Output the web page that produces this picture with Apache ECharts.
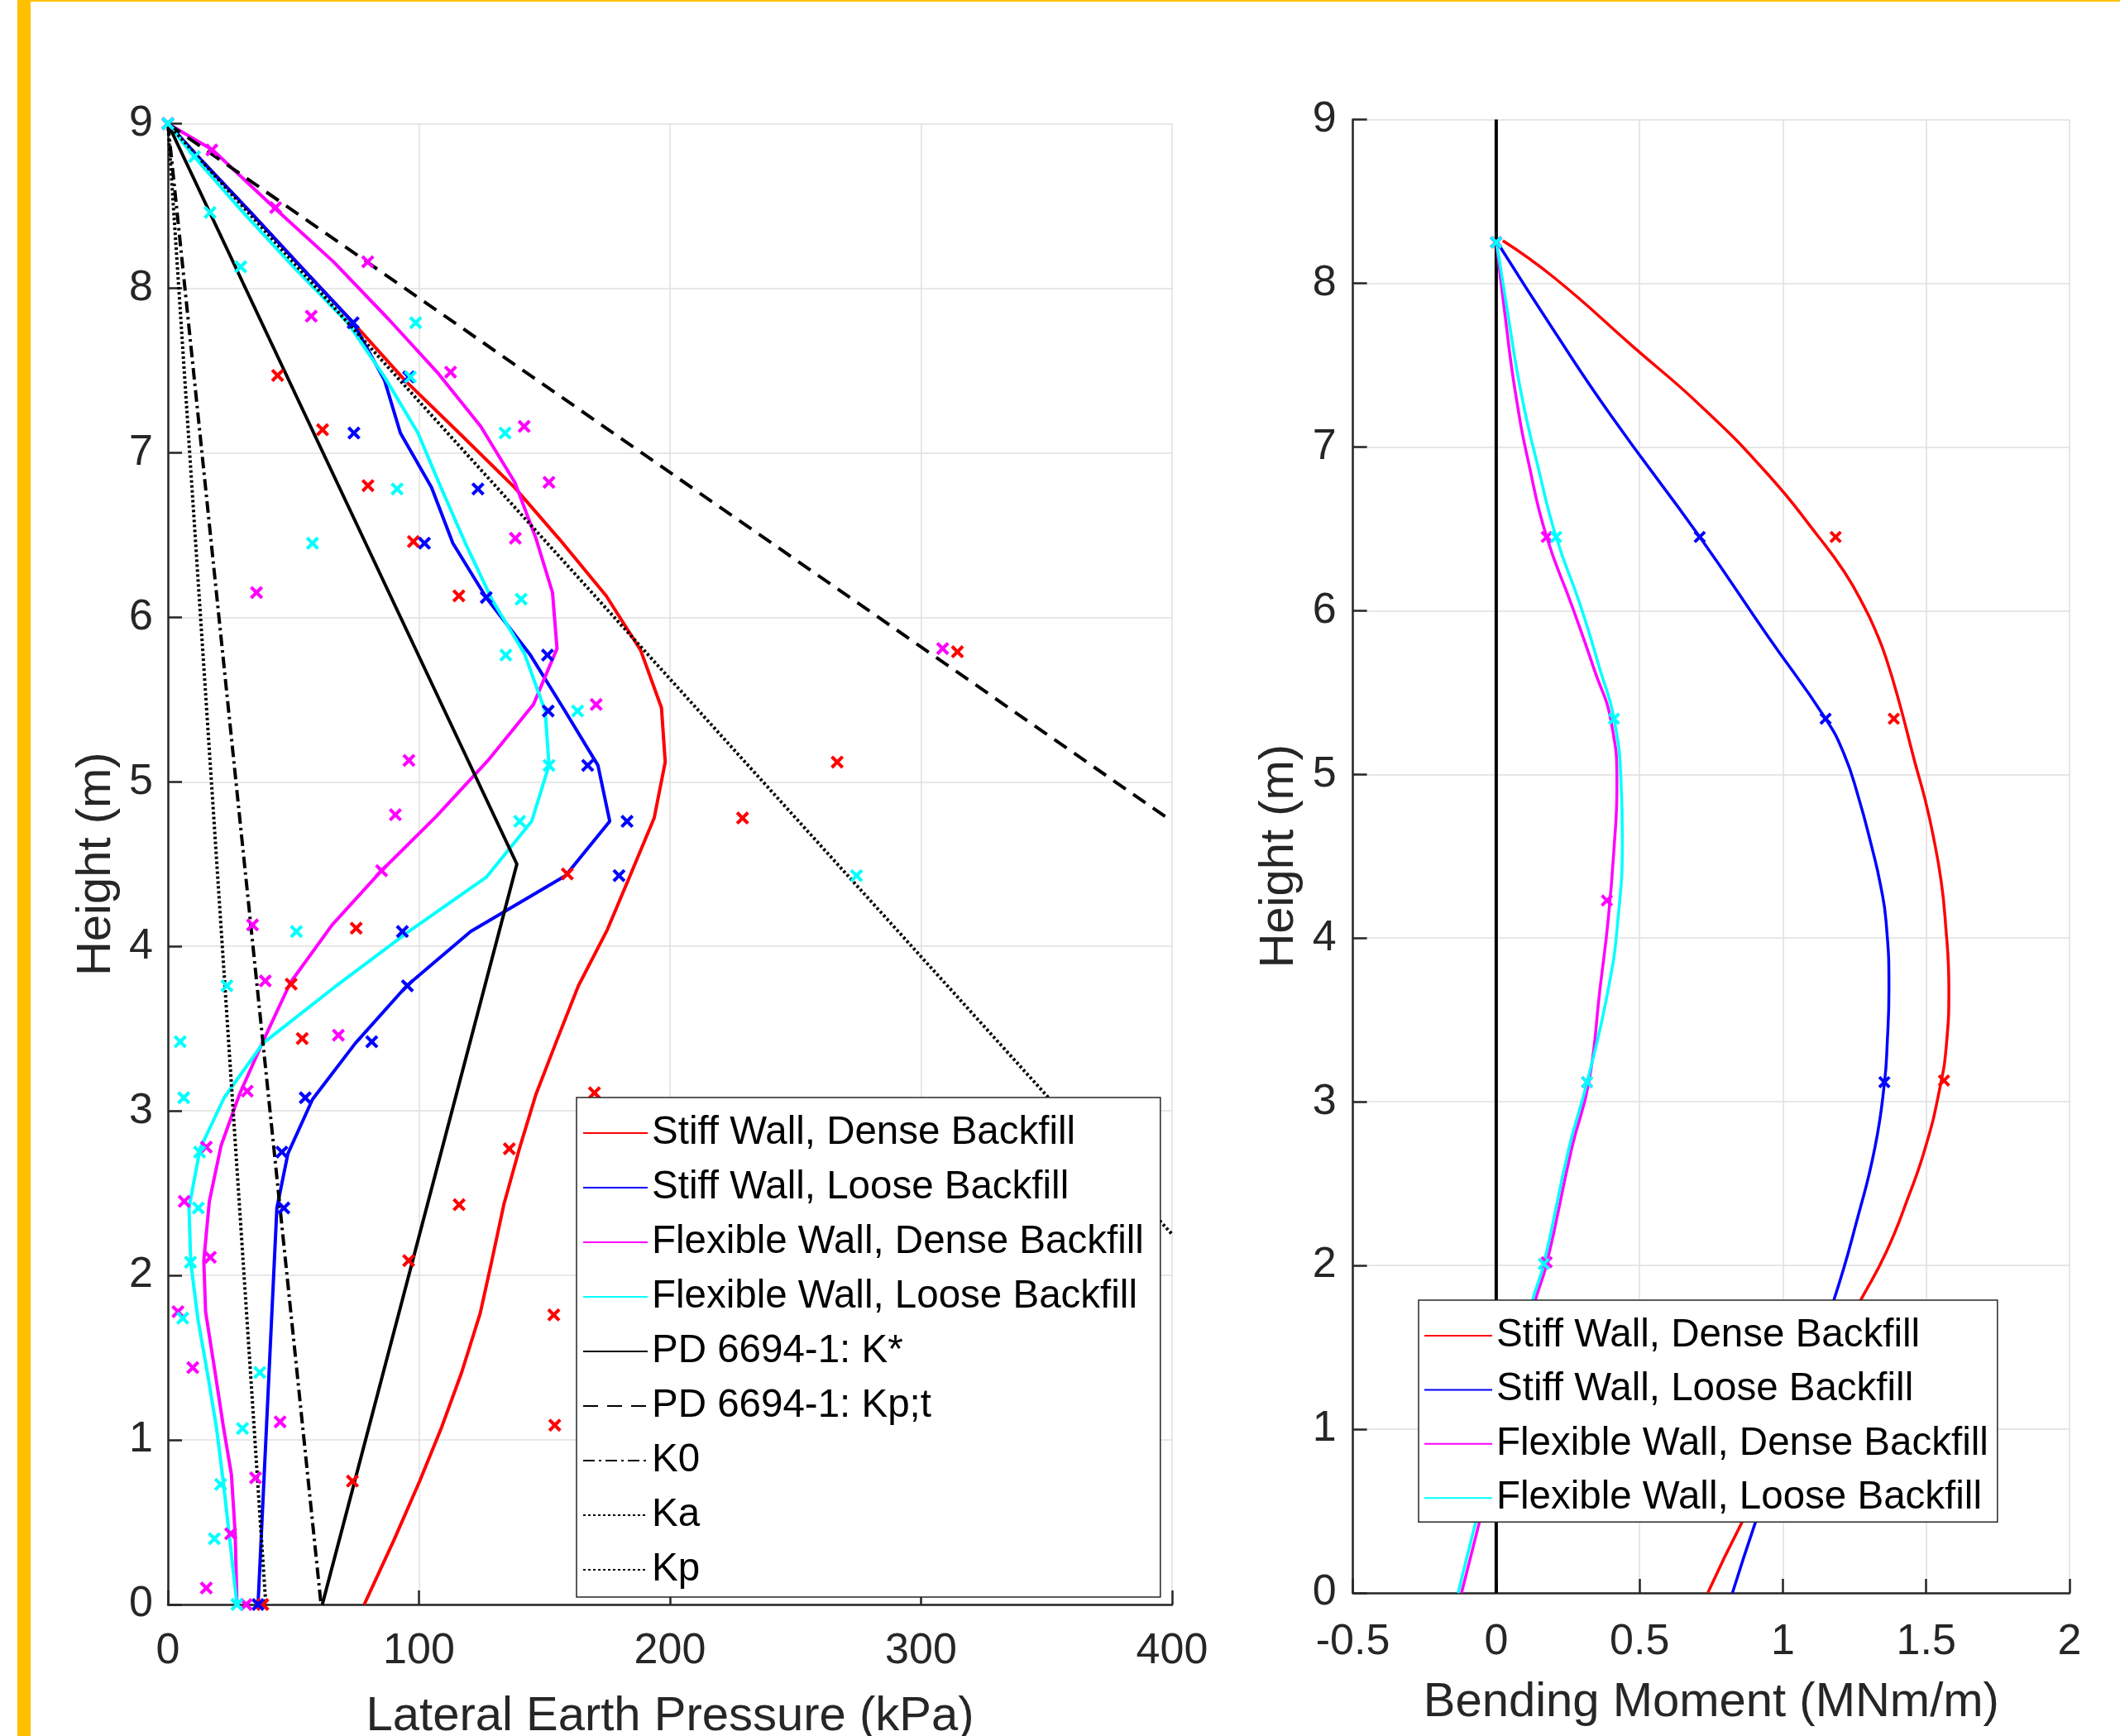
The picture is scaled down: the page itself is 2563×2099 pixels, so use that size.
<!DOCTYPE html>
<html lang="en">
<head>
<meta charset="UTF-8">
<title>Earth pressure and bending moment</title>
<script src="https://cdn.jsdelivr.net/npm/echarts@6/dist/echarts.min.js"></script>
<style>
    html, body {
        margin: 0;
        padding: 0;
        background: #fff;
    }
    #frame {
        position: absolute;
        left: 21px;
        top: 0;
        width: 2542px;
        height: 2099px;
        box-sizing: border-box;
        border-left: 16px solid #ffc000;
        border-top: 2px solid #ffc000;
    }
    #chart {
        position: absolute;
        left: 0;
        top: 0;
        width: 2563px;
        height: 2099px;
    }
</style>
</head>
<body>
<div id="frame"></div>
<div id="chart"></div>
<script>
    // left panel: lateral earth pressure (kPa) against height (m), [x, y]
    const stiffDenseP = [[0, 9], [12, 8.80], [33, 8.46], [53, 8.13], [73.8, 7.79], [94.4, 7.44], [116, 7.12], [138, 6.79], [156.2, 6.47], [174.6, 6.13], [188.3, 5.80], [196.6, 5.45], [198.1, 5.12], [193.7, 4.78], [184.1, 4.43], [175, 4.10], [163.5, 3.76], [154.7, 3.42], [146.6, 3.10], [140, 2.77], [133.8, 2.43], [128.9, 2.08], [124.4, 1.77], [117, 1.41], [109.1, 1.08], [100.3, 0.75], [90, 0.39], [78.2, 0]];
    const stiffLooseP = [[0, 9], [12, 8.80], [33, 8.46], [53, 8.13], [73.8, 7.79], [86.3, 7.44], [92.6, 7.12], [105, 6.79], [113.5, 6.45], [126.8, 6.12], [144.4, 5.77], [157.8, 5.44], [171.3, 5.10], [176, 4.76], [158.4, 4.43], [120.6, 4.09], [95.1, 3.76], [74.6, 3.41], [57.6, 3.07], [47.8, 2.74], [43.4, 2.41], [35.9, 0]];
    const flexDenseP = [[0, 9], [17.8, 8.84], [43, 8.48], [66, 8.16], [88, 7.81], [107.8, 7.48], [124.6, 7.16], [138.2, 6.82], [146.6, 6.48], [153.2, 6.15], [155, 5.81], [145.6, 5.47], [127.5, 5.13], [106.9, 4.79], [85.1, 4.46], [65.4, 4.13], [48.8, 3.78], [37.8, 3.42], [28.5, 3.10], [21.2, 2.79], [16.5, 2.45], [14.3, 2.09], [15, 1.78], [18.7, 1.42], [22.1, 1.08], [25.3, 0.79], [26.8, 0.43], [27.5, 0]];
    const flexLooseP = [[0, 9], [10.4, 8.80], [30, 8.46], [50, 8.13], [71.6, 7.79], [86.3, 7.46], [99.6, 7.12], [109, 6.78], [118.5, 6.45], [129, 6.11], [142, 5.78], [150.3, 5.43], [151.8, 5.10], [144.9, 4.76], [126.8, 4.42], [95.9, 4.09], [66.2, 3.75], [37.8, 3.41], [22.4, 3.08], [12.8, 2.77], [8.4, 2.41], [9.1, 2.08], [12, 1.73], [15.7, 1.41], [19.4, 1.07], [22.1, 0.74], [24.6, 0.40], [27.5, 0]];

    const stiffDenseMarks = [[0, 9], [43.7, 7.47], [61.6, 7.14], [79.7, 6.80], [97.8, 6.46], [115.9, 6.13], [314.5, 5.79], [266.6, 5.12], [228.9, 4.78], [159.1, 4.44], [75, 4.11], [49.1, 3.77], [53.5, 3.44], [169.9, 3.11], [136, 2.77], [116, 2.43], [95.9, 2.09], [153.7, 1.76], [154.1, 1.09], [73.5, 0.75], [37.8, 0]];
    const stiffLooseMarks = [[0, 9], [73.8, 7.79], [95.9, 7.46], [74.1, 7.12], [123.5, 6.78], [102.2, 6.45], [126.8, 6.12], [151.2, 5.77], [151.5, 5.43], [167.2, 5.10], [182.9, 4.76], [179.7, 4.43], [93.4, 4.09], [95.4, 3.76], [81.2, 3.42], [54.7, 3.08], [45.4, 2.75], [46.2, 2.41], [35.9, 0]];
    const flexDenseMarks = [[0, 9], [17.5, 8.84], [42.9, 8.49], [79.6, 8.16], [57.1, 7.83], [112.6, 7.49], [141.9, 7.16], [151.8, 6.82], [138.4, 6.48], [35.3, 6.15], [308.6, 5.81], [170.6, 5.47], [96, 5.13], [90.6, 4.80], [85.1, 4.46], [33.7, 4.13], [38.8, 3.79], [67.9, 3.46], [31.6, 3.12], [15.3, 2.78], [6.5, 2.45], [16.9, 2.11], [4, 1.78], [9.9, 1.44], [44.7, 1.11], [34.9, 0.77], [25, 0.43], [15.3, 0.10], [31.2, 0]];
    const flexLooseMarks = [[0, 9], [10.6, 8.80], [16.8, 8.46], [29, 8.13], [98.7, 7.79], [96.6, 7.46], [134.3, 7.12], [91.3, 6.78], [57.6, 6.45], [140.7, 6.11], [134.6, 5.77], [163.2, 5.43], [151.8, 5.10], [140.1, 4.76], [274.3, 4.43], [51.2, 4.09], [23.5, 3.76], [4.9, 3.42], [6.3, 3.08], [12.6, 2.75], [12.1, 2.41], [9, 2.08], [5.9, 1.74], [36.6, 1.41], [29.7, 1.07], [21, 0.73], [18.5, 0.40], [27.5, 0]];

    const kStar = [[0, 9], [139, 4.5], [61.5, 0]];
    const kpt = [[0, 9], [400, 4.76]];
    const k0 = [[0, 9], [61, 0]];
    const ka = [[0, 9], [39, 0]];
    const kp = [[0, 9], [400, 2.25]];

    // right panel: bending moment (MNm/m) against height (m)
    const stiffDenseM = [[0.023, 8.26], [0.205, 8.03], [0.479, 7.61], [0.714, 7.25], [0.949, 6.83], [1.125, 6.45], [1.213, 6.24], [1.282, 6.03], [1.325, 5.87], [1.360, 5.71], [1.409, 5.42], [1.458, 5.09], [1.497, 4.84], [1.526, 4.61], [1.552, 4.35], [1.566, 4.12], [1.579, 3.69], [1.571, 3.36], [1.546, 3.07], [1.497, 2.72], [1.438, 2.42], [1.360, 2.08], [1.272, 1.79], [1.065, 1.11], [0.857, 0.43], [0.738, 0]];
    const stiffLooseM = [[0, 8.26], [0.205, 7.70], [0.401, 7.19], [0.710, 6.45], [0.949, 5.84], [1.149, 5.34], [1.212, 5.13], [1.262, 4.87], [1.311, 4.55], [1.341, 4.32], [1.360, 4.10], [1.370, 3.69], [1.364, 3.36], [1.354, 3.11], [1.321, 2.72], [1.262, 2.30], [1.178, 1.79], [1.04, 1.11], [0.904, 0.43], [0.824, 0]];
    const flexDenseM = [[0, 8.26], [0.029, 7.83], [0.068, 7.32], [0.117, 6.87], [0.176, 6.45], [0.264, 6.03], [0.342, 5.64], [0.401, 5.32], [0.421, 4.93], [0.411, 4.55], [0.391, 4.12], [0.362, 3.69], [0.323, 3.12], [0.264, 2.72], [0.176, 2.01], [0.137, 1.79], [0.04, 1.11], [-0.059, 0.43], [-0.121, 0]];
    const flexLooseM = [[0, 8.26], [0.039, 7.83], [0.088, 7.32], [0.147, 6.87], [0.209, 6.45], [0.294, 6.03], [0.362, 5.64], [0.411, 5.34], [0.436, 4.93], [0.440, 4.61], [0.425, 4.12], [0.391, 3.69], [0.317, 3.12], [0.254, 2.72], [0.166, 2.01], [0.127, 1.79], [0.03, 1.11], [-0.072, 0.43], [-0.133, 0]];

    const stiffDenseMMarks = [[0, 8.25], [1.184, 6.45], [1.387, 5.34], [1.562, 3.13]];
    const stiffLooseMMarks = [[0, 8.25], [0.710, 6.45], [1.149, 5.34], [1.354, 3.12]];
    const flexDenseMMarks = [[0, 8.25], [0.176, 6.45], [0.386, 4.23], [0.317, 3.12], [0.176, 2.02]];
    const flexLooseMMarks = [[0, 8.25], [0.209, 6.45], [0.411, 5.34], [0.317, 3.12], [0.166, 2.01]];
    const zeroLine = [[0, 0], [0, 9]];

    const wallNames = ['Stiff Wall, Dense Backfill', 'Stiff Wall, Loose Backfill', 'Flexible Wall, Dense Backfill', 'Flexible Wall, Loose Backfill'];
    const refNames = ['PD 6694-1: K*', 'PD 6694-1: Kp;t', 'K0', 'Ka', 'Kp'];
    const wallColors = ['#ff0000', '#0000ff', '#ff00ff', '#00ffff'];

    const FONT = 'Liberation Sans, Arial, sans-serif';
    const AXIS = '#262626';
    const CROSS = 'path://M0,1.8L1.8,0L5,3.2L8.2,0L10,1.8L6.8,5L10,8.2L8.2,10L5,6.8L1.8,10L0,8.2L3.2,5Z';

    function line(name, data, color, idx, width, dash, smooth) {
        return {
            name: name,
            type: 'line',
            xAxisIndex: idx,
            yAxisIndex: idx,
            data: data,
            symbol: 'none',
            smooth: smooth || false,
            lineStyle: { color: color, width: width, type: dash || 'solid', cap: 'butt' },
            itemStyle: { color: color },
            z: 2
        };
    }

    function marks(name, data, color, idx, size) {
        return {
            name: name,
            type: 'scatter',
            xAxisIndex: idx,
            yAxisIndex: idx,
            data: data,
            symbol: CROSS,
            symbolSize: size,
            itemStyle: { color: color, opacity: 1 },
            z: 3
        };
    }

    function axisCommon(min, max, interval, name, gap) {
        return {
            type: 'value',
            min: min,
            max: max,
            interval: interval,
            name: name,
            nameLocation: 'middle',
            nameGap: gap,
            nameTextStyle: { fontSize: 58, color: AXIS, fontFamily: FONT },
            axisLine: { show: true, onZero: false, lineStyle: { color: AXIS, width: 2.5 } },
            axisTick: { show: true, inside: true, length: 17, lineStyle: { color: AXIS, width: 2.5 } },
            axisLabel: { fontSize: 52, color: AXIS, fontFamily: FONT },
            splitLine: { show: true, lineStyle: { color: '#dfdfdf', width: 1.5 } }
        };
    }

    const xLeft = axisCommon(0, 400, 100, 'Lateral Earth Pressure (kPa)', 107);
    xLeft.gridIndex = 0;
    xLeft.axisLabel.margin = 31;
    const yLeft = axisCommon(0, 9, 1, 'Height (m)', 57);
    yLeft.gridIndex = 0;
    yLeft.axisLabel.margin = 18;
    const xRight = axisCommon(-0.5, 2, 0.5, 'Bending Moment (MNm/m)', 104);
    xRight.gridIndex = 1;
    xRight.axisLabel.margin = 34;
    const yRight = axisCommon(0, 9, 1, 'Height (m)', 60);
    yRight.gridIndex = 1;
    yRight.axisLabel.margin = 20;

    const series = [
        line(wallNames[0], stiffDenseP, wallColors[0], 0, 4),
        line(wallNames[1], stiffLooseP, wallColors[1], 0, 4),
        line(wallNames[2], flexDenseP, wallColors[2], 0, 4),
        line(wallNames[3], flexLooseP, wallColors[3], 0, 4),
        marks('sd pts', stiffDenseMarks, wallColors[0], 0, 16),
        marks('sl pts', stiffLooseMarks, wallColors[1], 0, 16),
        marks('fd pts', flexDenseMarks, wallColors[2], 0, 16),
        marks('fl pts', flexLooseMarks, wallColors[3], 0, 16),
        line(refNames[0], kStar, '#000', 0, 4),
        line(refNames[1], kpt, '#000', 0, 4, [18, 11]),
        line(refNames[2], k0, '#000', 0, 4, [14, 5, 3, 5]),
        line(refNames[3], ka, '#000', 0, 4, [3, 3]),
        line(refNames[4], kp, '#000', 0, 4, [3, 3]),

        line('zero', zeroLine, '#000', 1, 4),
        line(wallNames[0], stiffDenseM, wallColors[0], 1, 3.5, null, 0.5),
        line(wallNames[1], stiffLooseM, wallColors[1], 1, 3.5, null, 0.5),
        line(wallNames[2], flexDenseM, wallColors[2], 1, 3.5, null, 0.5),
        line(wallNames[3], flexLooseM, wallColors[3], 1, 3.5, null, 0.5),
        marks('sd m pts', stiffDenseMMarks, wallColors[0], 1, 15),
        marks('sl m pts', stiffLooseMMarks, wallColors[1], 1, 15),
        marks('fd m pts', flexDenseMMarks, wallColors[2], 1, 15),
        marks('fl m pts', flexLooseMMarks, wallColors[3], 1, 15)
    ];

    const legendText = { fontSize: 47.5, color: '#000', fontFamily: FONT, lineHeight: 56 };

    const option = {
        animation: false,
        backgroundColor: 'transparent',
        grid: [
            { left: 203, top: 149.5, width: 1214, height: 1790.5, outerBoundsMode: 'none' },
            { left: 1635.6, top: 144.5, width: 866.4, height: 1781.5, outerBoundsMode: 'none' }
        ],
        xAxis: [xLeft, xRight],
        yAxis: [yLeft, yRight],
        legend: [
            {
                data: wallNames.concat(refNames),
                orient: 'vertical',
                left: 697,
                top: 1327,
                itemWidth: 78,
                itemHeight: 20,
                itemGap: 10,
                padding: [15, 20, 5, 7],
                backgroundColor: '#fff',
                borderColor: AXIS,
                borderWidth: 1.5,
                borderRadius: 0,
                selectedMode: false,
                itemStyle: { opacity: 0 },
                textStyle: legendText
            },
            {
                data: wallNames,
                orient: 'vertical',
                left: 1715,
                top: 1572,
                itemWidth: 82,
                itemHeight: 20,
                itemGap: 9.4,
                padding: [15, 11, 1, 6],
                backgroundColor: '#fff',
                borderColor: AXIS,
                borderWidth: 1.5,
                borderRadius: 0,
                selectedMode: false,
                itemStyle: { opacity: 0 },
                textStyle: legendText
            }
        ],
        series: series
    };

    const chart = echarts.init(document.getElementById('chart'));
    chart.setOption(option);
</script>
</body>
</html>
